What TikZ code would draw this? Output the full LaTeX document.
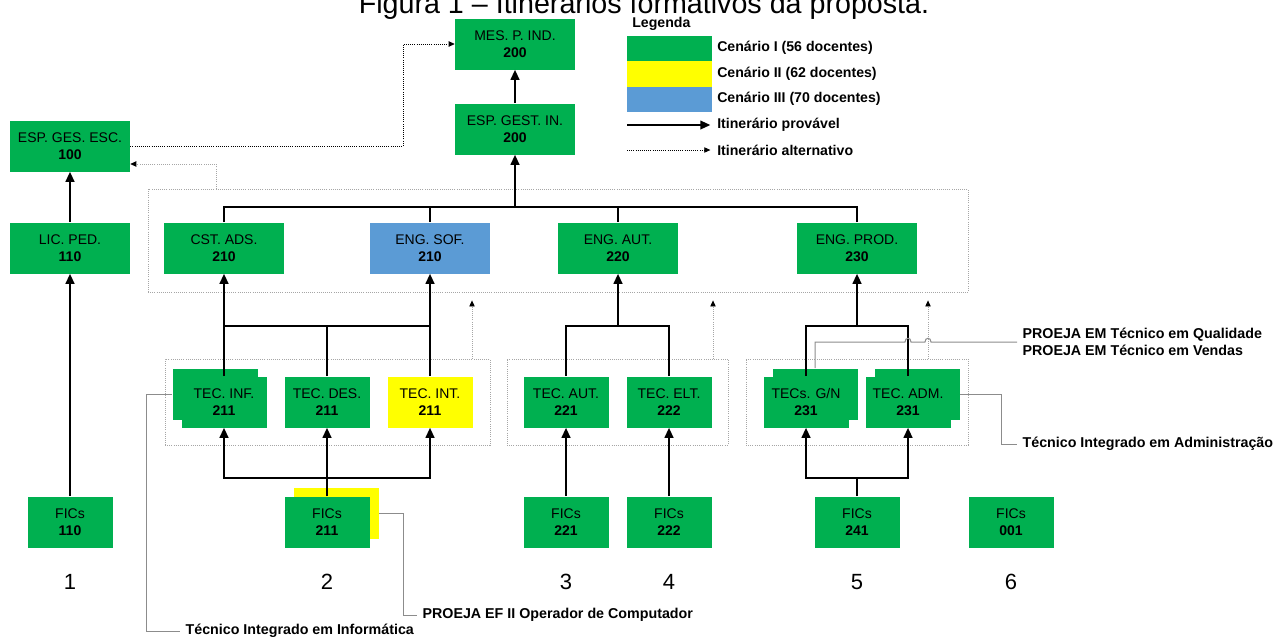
\documentclass[tikz,border=0pt]{standalone}
\usepackage{fontspec}
\setmainfont{Liberation Sans}
\usetikzlibrary{arrows.meta,positioning,fit}
\definecolor{itgreen}{HTML}{00B050}
\definecolor{ityellow}{HTML}{FFFF00}
\definecolor{itblue}{HTML}{5B9BD5}
\definecolor{itgrey}{HTML}{8C8C8C}
\definecolor{itdots}{HTML}{A6A6A6}
\tikzset{
  curso/.style   = {rectangle, align=center, inner sep=0pt, fill=itgreen,
                    minimum width=90pt, minimum height=38.25pt,
                    font=\fontsize{10.5}{12.6}\selectfont},
  tec/.style     = {curso, minimum width=63.75pt},
  grupo/.style   = {draw=itdots, densely dotted, line width=0.6pt, inner sep=0pt},
  swatch/.style  = {rectangle, inner sep=0pt, minimum width=63.75pt, minimum height=19pt},
  bus/.style     = {line width=1.5pt},
  flow/.style    = {-{Triangle[length=7.5pt,width=6.5pt]}, line width=1.5pt},
  altern/.style  = {-{Triangle[length=4.5pt,width=4pt,color=black]}, densely dotted,
                    line width=0.6pt, draw=itdots},
  callout/.style = {draw=itgrey, line width=0.75pt},
  nota/.style    = {anchor=west, align=left, inner sep=4pt,
                    font=\bfseries\fontsize{10.7}{13}\selectfont},
  leg/.style     = {anchor=west, inner sep=0pt, font=\bfseries\fontsize{10.6}{12}\selectfont},
  num/.style     = {font=\fontsize{16.5}{18}\selectfont},
}

\begin{document}
\begin{tikzpicture}[x=0.75pt, y=-0.75pt]
\useasboundingbox (0,0) rectangle (1280,637);

\node[anchor=base, font=\fontsize{21.5}{24}\selectfont] (titulo) at (644,13)
  {Figura 1 -- Itinerários formativos da proposta.};

% grupos
\node[grupo, fit={(148,189) (968,292)}] (g2) {};
\node[grupo, fit={(165,359) (490,445)}] (gt1) {};
\node[grupo, fit={(507,359) (728,445)}] (gt2) {};
\node[grupo, fit={(746,359) (968,445)}] (gt3) {};

% cursos
\node[curso] (mes)    at (515,44)  {MES. P. IND.\\\textbf{200}};
\node[curso] (espin)  at (515,129) {ESP. GEST. IN.\\\textbf{200}};
\node[curso] (espesc) at (70,146)  {ESP. GES. ESC.\\\textbf{100}};
\node[curso] (licped) at (70,248)  {LIC. PED.\\\textbf{110}};
\node[curso] (cst)    at (224,248) {CST. ADS.\\\textbf{210}};
\node[curso, fill=itblue] (engsof) at (430,248) {ENG. SOF.\\\textbf{210}};
\node[curso] (engaut)  at (618,248) {ENG. AUT.\\\textbf{220}};
\node[curso] (engprod) at (857,248) {ENG. PROD.\\\textbf{230}};

\node[tec] (tecinfb) at (215,394) {};
\node[tec] (tecgnb)  at (815,394) {};
\node[tec] (tecadmb) at (917,394) {};
\node[tec] (tecinf) at (224,402) {TEC. INF.\\\textbf{211}};
\node[tec] (tecdes) at (327,402) {TEC. DES.\\\textbf{211}};
\node[tec, fill=ityellow] (tecint) at (430,402) {TEC. INT.\\\textbf{211}};
\node[tec] (tecaut) at (566,402) {TEC. AUT.\\\textbf{221}};
\node[tec] (tecelt) at (669,402) {TEC. ELT.\\\textbf{222}};
\node[tec] (tecgn)  at (806,402) {TECs. G/N\\\textbf{231}};
\node[tec] (tecadm) at (908,402) {TEC. ADM.\\\textbf{231}};

\node[tec, fill=ityellow] (fic211b) at (336,513) {};
\node[tec] (fic110) at (70,522)   {FICs\\\textbf{110}};
\node[tec] (fic211) at (327,522)  {FICs\\\textbf{211}};
\node[tec] (fic221) at (566,522)  {FICs\\\textbf{221}};
\node[tec] (fic222) at (669,522)  {FICs\\\textbf{222}};
\node[tec] (fic241) at (857,522)  {FICs\\\textbf{241}};
\node[tec] (fic001) at (1011,522) {FICs\\\textbf{001}};

\node[num] (n1) at (70,582)   {1};
\node[num] (n2) at (327,582)  {2};
\node[num] (n3) at (566,582)  {3};
\node[num] (n4) at (669,582)  {4};
\node[num] (n5) at (857,582)  {5};
\node[num] (n6) at (1011,582) {6};

% legenda
\node[leg] (legenda) at (632,24) {Legenda};
\node[swatch, fill=itgreen]  (sw1) at (669.5,48.5) {};
\node[swatch, fill=ityellow] (sw2) at (669.5,74)   {};
\node[swatch, fill=itblue]   (sw3) at (669.5,99.5) {};
\node[leg] (lc1) at (717,48)  {Cenário I (56 docentes)};
\node[leg] (lc2) at (717,74)  {Cenário II (62 docentes)};
\node[leg] (lc3) at (717,99)  {Cenário III (70 docentes)};
\node[leg] (lprov) at (717,125) {Itinerário provável};
\node[leg] (lalt)  at (717,150) {Itinerário alternativo};
\coordinate (lp0) at (627,125);
\coordinate (la0) at (627,150);
\draw[flow, line width=1.2pt, shorten >=5pt] (lp0) -- (lprov.west);
\draw[altern, draw=black, shorten >=5pt] (la0) -- (lalt.west);

% notas
\node[nota] (proejaem) at (1017,342) {PROEJA EM Técnico em Qualidade\\PROEJA EM Técnico em Vendas};
\node[nota] (tia)      at (1017,444) {Técnico Integrado em Administração};
\node[nota] (tii)      at (180,631)  {Técnico Integrado em Informática};
\node[nota] (proejaef) at (417,615)  {PROEJA EF II Operador de Computador};

% barramentos
\coordinate (busA) at (0,207);
\coordinate (busB) at (0,326);
\coordinate (busC) at (0,478);

\draw[flow] (espin) -- (mes);
\draw[flow] (licped) -- (espesc);
\draw[flow] (fic110) -- (licped);

\draw[bus] (cst.north) |- (espin.south |- busA);
\draw[bus] (engprod.north) |- (espin.south |- busA);
\draw[bus] (engsof.north) -- (engsof.north |- busA);
\draw[bus] (engaut.north) -- (engaut.north |- busA);
\draw[flow] (espin.south |- busA) -- (espin.south);

\draw[bus] (tecinf.north |- busB) -- (tecint.north |- busB);
\draw[bus] (tecdes.north) -- (tecdes.north |- busB);
\draw[flow] (tecinf.north) -- (cst.south);
\draw[flow] (tecint.north) -- (engsof.south);
\draw[bus] (fic211.north) -- (fic211.north |- busC);
\draw[flow] (fic211.north) -- (tecdes.south);
\draw[flow] (fic211.north |- busC) -| (tecinf.south);
\draw[flow] (fic211.north |- busC) -| (tecint.south);

\draw[bus] (tecaut.north) |- (engaut.south |- busB);
\draw[bus] (tecelt.north) |- (engaut.south |- busB);
\draw[flow] (engaut.south |- busB) -- (engaut.south);
\draw[flow] (fic221) -- (tecaut);
\draw[flow] (fic222) -- (tecelt);

\draw[bus] (tecgn.north) |- (engprod.south |- busB);
\draw[bus] (tecadm.north) |- (engprod.south |- busB);
\draw[flow] (engprod.south |- busB) -- (engprod.south);
\draw[bus] (fic241.north) -- (fic241.north |- busC);
\draw[flow] (fic241.north |- busC) -| (tecgn.south);
\draw[flow] (fic241.north |- busC) -| (tecadm.south);

% itinerarios alternativos
\coordinate (a1) at (216,164);
\coordinate (a2) at (403,0);
\coordinate (u1) at (472,0);
\coordinate (u2) at (713,0);
\coordinate (u3) at (928,0);
\draw[altern, draw=black] (espesc.east) -- (espesc.east -| a2) |- (mes.west);
\draw[altern] (g2.north -| a1) |- (espesc.east |- a1);
\draw[altern, shorten >=6pt] (gt1.north -| u1) -- (g2.south -| u1);
\draw[altern, shorten >=6pt] (gt2.north -| u2) -- (g2.south -| u2);
\draw[altern, shorten >=6pt] (gt3.north -| u3) -- (g2.south -| u3);

% chamadas
\draw[callout] (tecgnb.north) -- (tecgnb.north |- 0,342) -- (905,342)
  .. controls (905,337) and (911,337) .. (911,342) -- (925,342)
  .. controls (925,337) and (931,337) .. (931,342) -- (proejaem.west);
\draw[callout] (tecadmb.east) -- ++(42,0) |- (tia.west);
\draw[callout] (tecinfb.west) -- ++(-26,0) |- (tii.west);
\draw[callout] (fic211b.east) -- ++(25,0) |- (proejaef.west);

\end{tikzpicture}
\end{document}
